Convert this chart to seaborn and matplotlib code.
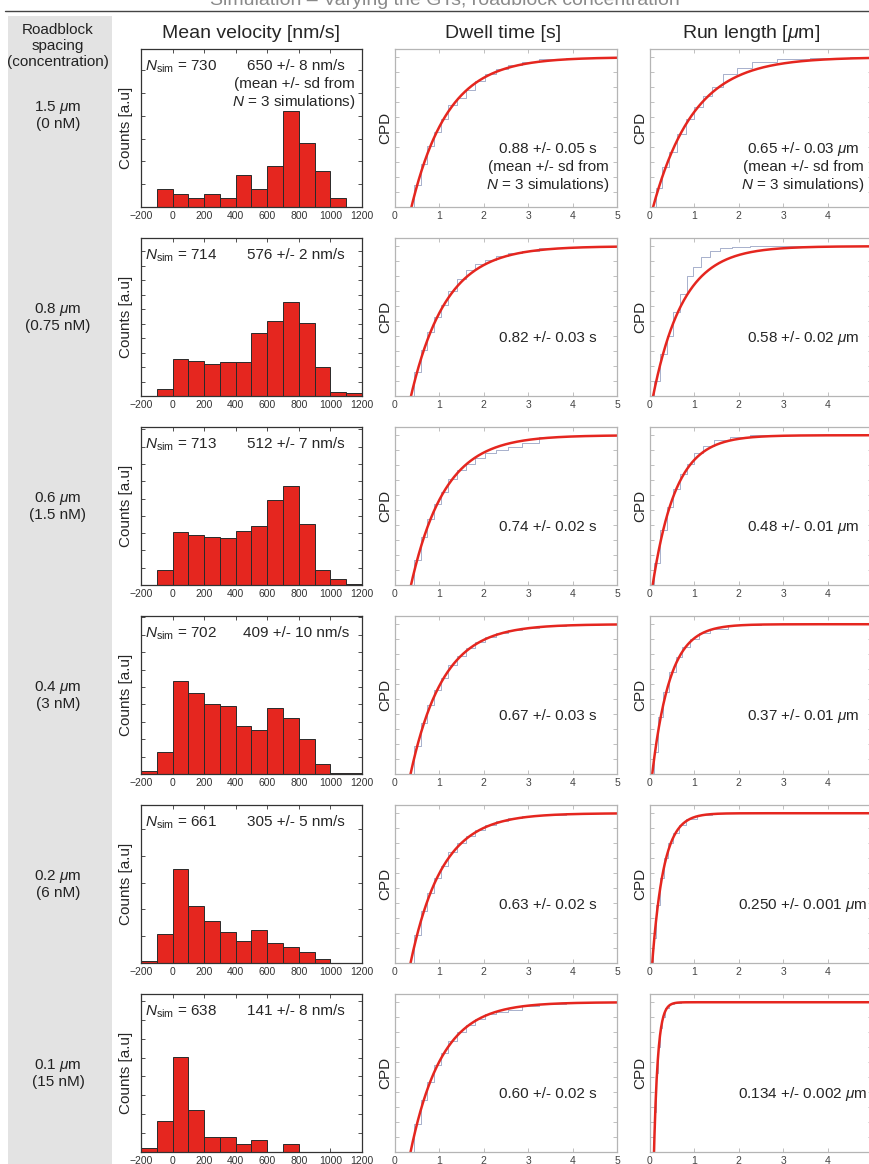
import numpy as np
import pandas as pd
import matplotlib
matplotlib.use("Agg")
import matplotlib.pyplot as plt
import seaborn as sns
from matplotlib.patches import Rectangle
from matplotlib.lines import Line2D
from matplotlib.ticker import MultipleLocator

# ---- data ----
row_labels = ["1.5 $\\mu$m\n(0 nM)", "0.8 $\\mu$m\n(0.75 nM)", "0.6 $\\mu$m\n(1.5 nM)",
              "0.4 $\\mu$m\n(3 nM)", "0.2 $\\mu$m\n(6 nM)", "0.1 $\\mu$m\n(15 nM)"]
n_sim = [730, 714, 713, 702, 661, 638]
vel_text = ["650 +/- 8 nm/s", "576 +/- 2 nm/s", "512 +/- 7 nm/s",
            "409 +/- 10 nm/s", "305 +/- 5 nm/s", "141 +/- 8 nm/s"]
dwell_text = ["0.88 +/- 0.05 s", "0.82 +/- 0.03 s", "0.74 +/- 0.02 s",
              "0.67 +/- 0.03 s", "0.63 +/- 0.02 s", "0.60 +/- 0.02 s"]
run_text = ["0.65 +/- 0.03 $\\mu$m", "0.58 +/- 0.02 $\\mu$m", "0.48 +/- 0.01 $\\mu$m",
            "0.37 +/- 0.01 $\\mu$m", "0.250 +/- 0.001 $\\mu$m", "0.134 +/- 0.002 $\\mu$m"]
sd_note = "(mean +/- sd from\n$N$ = 3 simulations)"

# velocity histograms, bins of 100 nm/s from -200 to 1200 (arbitrary units)
bin_edges = list(range(-200, 1201, 100))
vel_counts = [
    [0, 54, 40, 26, 40, 26, 95, 54, 122, 286, 190, 109, 27, 0],
    [0, 22, 111, 105, 97, 104, 102, 190, 227, 285, 222, 89, 13, 9],
    [0, 44, 153, 145, 138, 135, 155, 170, 247, 285, 175, 44, 17, 4],
    [9, 65, 279, 241, 210, 204, 144, 130, 196, 168, 104, 29, 3, 3],
    [7, 86, 282, 171, 126, 93, 67, 98, 60, 47, 33, 12, 1, 0],
    [12, 93, 287, 127, 46, 46, 24, 35, 0, 24, 0, 0, 0, 0],
]
vel_ymax = [472, 480, 457, 472, 472, 477]
vel_ytick = [68, 44, 50, 52, 80, 57]

# exponential fits (offset, time constant) for the CPD panels
dwell_x0 = [0.37, 0.36, 0.36, 0.35, 0.35, 0.35]
dwell_tau = [0.82, 0.79, 0.76, 0.73, 0.71, 0.70]
run_x0 = [0.07, 0.07, 0.06, 0.05, 0.05, 0.09]
run_tau = [0.92, 0.68, 0.52, 0.40, 0.26, 0.09]

# empirical cumulative distributions (step centres)
dwell_ecdf_x = [0.35, 0.5, 0.65, 0.8, 0.95, 1.1, 1.3, 1.5, 1.7, 1.9, 2.15, 2.4, 2.7, 3.0, 3.5, 4.2, 5.0]
dwell_ecdf_y = [
    [0, .15, .29, .41, .50, .59, .68, .73, .78, .84, .89, .92, .945, .965, .99, .995, 1.0],
    [0, .16, .31, .43, .53, .61, .70, .78, .84, .88, .91, .935, .955, .97, .985, .995, 1.0],
    [0, .17, .32, .44, .54, .62, .71, .77, .81, .85, .88, .90, .92, .95, .985, .995, 1.0],
    [0, .19, .34, .46, .56, .64, .73, .79, .84, .88, .915, .94, .96, .975, .99, .995, 1.0],
    [0, .19, .35, .47, .57, .65, .74, .80, .85, .89, .92, .945, .965, .98, .99, 1.0, 1.0],
    [0, .19, .35, .47, .58, .66, .74, .80, .85, .89, .92, .935, .95, .975, .99, 1.0, 1.0],
]
run_ecdf_x = [
    [0.05, 0.2, 0.35, 0.5, 0.7, 0.9, 1.1, 1.3, 1.5, 1.8, 2.1, 2.5, 3.2, 4.0, 5.0],
    [0.05, 0.15, 0.3, 0.45, 0.6, 0.75, 0.9, 1.05, 1.25, 1.45, 1.7, 2.0, 2.5, 3.5, 5.0],
    [0.05, 0.15, 0.3, 0.45, 0.6, 0.75, 0.9, 1.1, 1.3, 1.6, 2.0, 2.5, 3.5, 5.0],
    [0.04, 0.12, 0.24, 0.36, 0.5, 0.65, 0.8, 1.0, 1.2, 1.5, 2.0, 3.0, 5.0],
    [0.04, 0.1, 0.18, 0.27, 0.36, 0.46, 0.58, 0.72, 0.9, 1.2, 1.6, 3.0, 5.0],
    [0.08, 0.12, 0.16, 0.2, 0.25, 0.3, 0.38, 0.46, 0.6, 0.8, 5.0],
]
run_ecdf_y = [
    [0, .13, .27, .37, .49, .59, .67, .74, .80, .89, .93, .965, .99, .995, 1.0],
    [0, .10, .28, .40, .56, .68, .80, .86, .93, .97, .99, .995, 1.0, 1.0, 1.0],
    [0, .15, .37, .52, .64, .74, .81, .88, .93, .97, .99, 1.0, 1.0, 1.0],
    [0, .15, .38, .55, .68, .78, .85, .90, .94, .97, .995, 1.0, 1.0],
    [0, .17, .39, .57, .70, .80, .87, .92, .96, .99, 1.0, 1.0, 1.0],
    [0, .27, .53, .70, .83, .90, .96, .985, .995, 1.0, 1.0],
]

# ---- style ----
sns.set_theme(style="white")
plt.rcParams["font.family"] = ["Liberation Sans", "DejaVu Sans"]
plt.rcParams["mathtext.fontset"] = "custom"
plt.rcParams["mathtext.rm"] = "Liberation Sans"
plt.rcParams["mathtext.it"] = "Liberation Sans:italic"
plt.rcParams["mathtext.default"] = "it"

RED = "#e5261f"
STEP = "#a7b0cc"
W, H = 870, 1164
fig = plt.figure(figsize=(W / 100, H / 100), dpi=100)


def px_axes(x, y, w, h):
    return fig.add_axes([x / W, 1 - (y + h) / H, w / W, h / H])


def frame(ax, col, labcol):
    for s in ax.spines.values():
        s.set_color(col)
        s.set_linewidth(0.9)
    ax.tick_params(direction="in", length=3, width=0.6, color=col, top=True, right=True,
                   bottom=True, left=True, labelsize=7.5, labelcolor=labcol, pad=3)
    ax.tick_params(axis="y", labelleft=False)
    ax.set_xlabel("")


# gray band, top rule and the title that is cut at the top edge
fig.patches.append(Rectangle((8 / W, 0), 104 / W, 1 - 16 / H, transform=fig.transFigure,
                             facecolor="#e3e3e3", edgecolor="none", zorder=-5))
fig.lines.append(Line2D([5 / W, 1], [1 - 10.5 / H] * 2, transform=fig.transFigure,
                        color="#444444", lw=1))
fig.text(445 / W, 1 - 5 / H, "Simulation \u2013 Varying the GTs, roadblock concentration",
         ha="center", va="baseline", fontsize=14, color="#8a8a8a")

fig.text(58 / W, 1 - 46 / H, "Roadblock\nspacing\n(concentration)", ha="center", va="center",
         fontsize=11, linespacing=1.2, color="#222222")
fig.text(251 / W, 1 - 33 / H, "Mean velocity [nm/s]", ha="center", va="center", fontsize=14)
fig.text(503 / W, 1 - 33 / H, "Dwell time [s]", ha="center", va="center", fontsize=14)
fig.text(751 / W, 1 - 33 / H, "Run length [$\\mu$m]", ha="center", va="center", fontsize=14)

centers = [(a + b) / 2 for a, b in zip(bin_edges[:-1], bin_edges[1:])]
xfit = np.linspace(0, 5, 600)

for i in range(6):
    top = 49 + 189 * i
    hgt = 158
    ycen = top + hgt / 2 - (13 if i == 0 else 0)
    fig.text(58 / W, 1 - ycen / H, row_labels[i], ha="center", va="center",
             fontsize=11, linespacing=1.15, color="#222222")

    # velocity histogram
    ax = px_axes(141, top, 221, hgt)
    hist_df = pd.DataFrame({"velocity": centers, "count": vel_counts[i]})
    sns.histplot(data=hist_df, x="velocity", weights="count", bins=bin_edges, color=RED,
                 alpha=1, edgecolor="#2a2a2a", linewidth=0.7, ax=ax)
    ax.set_xlim(-200, 1200)
    ax.set_ylim(0, vel_ymax[i])
    ax.set_xticks(range(-200, 1201, 200))
    ax.yaxis.set_major_locator(MultipleLocator(vel_ytick[i]))
    frame(ax, "#333333", "#333333")
    ax.set_ylabel("Counts [a.u]", fontsize=11)
    ax.yaxis.set_label_coords(-8 / 221, 0.5)
    ax.text(4 / 221, 1 - 10 / hgt, "$N_{\\mathrm{sim}}$ = %d" % n_sim[i], transform=ax.transAxes,
            ha="left", va="top", fontsize=11)
    ax.text(155 / 221, 1 - 10 / hgt, vel_text[i], transform=ax.transAxes,
            ha="center", va="top", fontsize=11)
    if i == 0:
        ax.text(153 / 221, 1 - 28 / hgt, sd_note, transform=ax.transAxes,
                ha="center", va="top", fontsize=11, linespacing=1.15)

    # dwell time CPD
    ax = px_axes(395, top, 222, hgt)
    sns.lineplot(x=dwell_ecdf_x, y=dwell_ecdf_y[i], drawstyle="steps-mid",
                 color=STEP, lw=0.7, ax=ax)
    sns.lineplot(x=xfit, y=1 - np.exp(-(xfit - dwell_x0[i]) / dwell_tau[i]),
                 color=RED, lw=1.8, ax=ax)
    ax.set_xlim(0, 5)
    ax.set_ylim(0, 1.055)
    ax.set_xticks(range(6))
    ax.yaxis.set_major_locator(MultipleLocator(0.1))
    frame(ax, "#b5b5b5", "#444444")
    ax.set_ylabel("CPD", fontsize=11)
    ax.yaxis.set_label_coords(-3 / 222, 0.5)
    ax.text(153 / 222, 1 - 100 / hgt, dwell_text[i], transform=ax.transAxes,
            ha="center", va="center", fontsize=11)
    if i == 0:
        ax.text(153 / 222, 1 - 111 / hgt, sd_note, transform=ax.transAxes,
                ha="center", va="top", fontsize=11, linespacing=1.15)

    # run length CPD (right edge runs past the picture)
    ax = px_axes(650, top, 222, hgt)
    sns.lineplot(x=run_ecdf_x[i], y=run_ecdf_y[i], drawstyle="steps-mid",
                 color=STEP, lw=0.7, ax=ax)
    sns.lineplot(x=xfit, y=1 - np.exp(-(xfit - run_x0[i]) / run_tau[i]),
                 color=RED, lw=1.8, ax=ax)
    ax.set_xlim(0, 5)
    ax.set_ylim(0, 1.055)
    ax.set_xticks(range(6))
    ax.set_xticklabels(["0", "1", "2", "3", "4", ""])
    ax.yaxis.set_major_locator(MultipleLocator(0.1))
    frame(ax, "#b5b5b5", "#444444")
    ax.set_ylabel("CPD", fontsize=11)
    ax.yaxis.set_label_coords(-3 / 222, 0.5)
    ax.text(153 / 222, 1 - 100 / hgt, run_text[i], transform=ax.transAxes,
            ha="center", va="center", fontsize=11)
    if i == 0:
        ax.text(153 / 222, 1 - 111 / hgt, sd_note, transform=ax.transAxes,
                ha="center", va="top", fontsize=11, linespacing=1.15)

fig.savefig("out.png", dpi=100)
